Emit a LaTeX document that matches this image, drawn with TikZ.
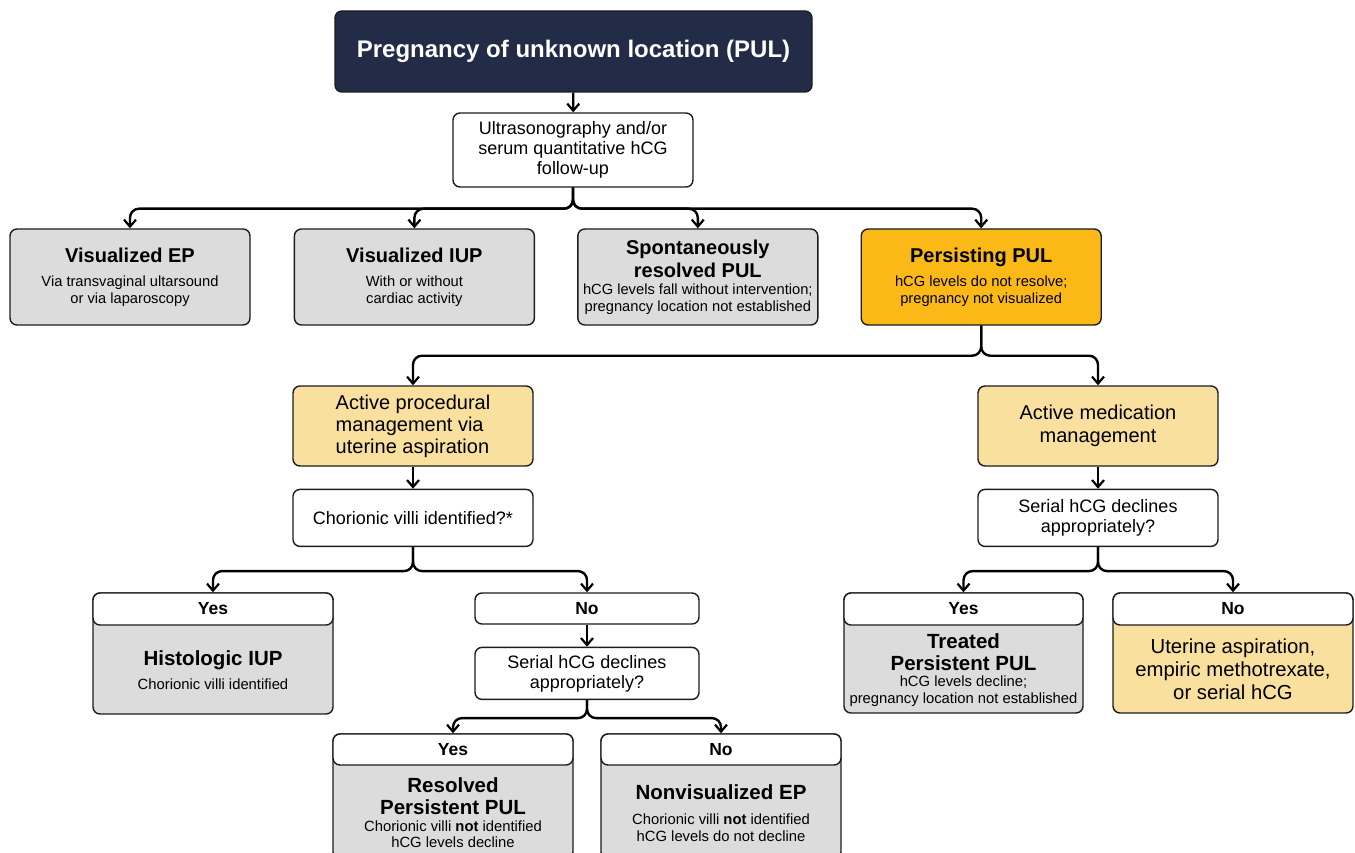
\documentclass[tikz,border=0pt]{standalone}
\usepackage{fontspec}
\setmainfont{Liberation Sans}
\usetikzlibrary{positioning}
\usetikzlibrary{calc}
\usetikzlibrary{arrows.meta}

\definecolor{navy}{HTML}{232C47}
\definecolor{boxgray}{HTML}{DCDCDC}
\definecolor{amber}{HTML}{FBB917}
\definecolor{paleamber}{HTML}{F9E09E}
\definecolor{edge}{HTML}{1C1C1C}

\newcommand{\fixspace}{\spaceskip=.278em\xspaceskip=.278em}
\newcommand{\rowtitle}{\fontsize{20}{23}\selectfont\bfseries\fixspace}
\newcommand{\rownote}{\fontsize{14.7}{17}\selectfont\fixspace}
\newcommand{\restitle}{\fontsize{20.5}{22}\selectfont\bfseries\fixspace}
\newcommand{\resnote}{\fontsize{14.8}{16.5}\selectfont\fixspace}
\newcommand{\yesno}{\fontsize{17.5}{20}\selectfont\bfseries}

\tikzset{
  box/.style={draw=edge, line width=1.4pt, rounded corners=7pt, minimum width=240, inner sep=2pt, align=center},
  plainbox/.style={box, fill=white},
  graybox/.style={box, fill=boxgray},
  ambbox/.style={box, fill=amber},
  palebox/.style={box, fill=paleamber},
  bodytext/.style={text width=236, align=center, inner sep=0pt},
  conn/.style={line width=2.4pt, rounded corners=9pt, -{Straight Barb[length=7pt,width=12pt,line width=2.2pt]}}
}

\begin{document}
\begin{tikzpicture}[x=1pt, y=-1pt]
  \useasboundingbox (0,0) rectangle (1355,853);
  \clip (0,0) rectangle (1355,853);

  % top of the chart
  \node[box, fill=navy, text=white, minimum width=477, minimum height=81, font=\fontsize{24}{28}\selectfont\bfseries] (pul) at (573.5,51.5) {Pregnancy of unknown location (PUL)};
  \node[plainbox, minimum height=74, font=\fontsize{18}{20}\selectfont] (ultra) at (573,150) {Ultrasonography and/or\\serum quantitative hCG\\follow-up};

  % first row
  \node[graybox, minimum height=96, text width=232] (vep) at (130,277) {{\rowtitle Visualized EP\par}\vskip7pt{\rownote Via transvaginal ultarsound\\or via laparoscopy\par}};
  \node[graybox, minimum height=96, text width=232, right=43pt of vep] (viup) {{\rowtitle Visualized IUP\par}\vskip7pt{\rownote With or without\\cardiac activity\par}};
  \node[graybox, minimum height=96, text width=232, right=42pt of viup] (spon) {{\rowtitle Spontaneously\\resolved PUL\par}{\rownote hCG levels fall without intervention;\\pregnancy location not established\par}};
  \node[ambbox, minimum height=96, text width=232, right=42pt of spon] (pers) {{\rowtitle Persisting PUL\par}\vskip7pt{\rownote hCG levels do not resolve;\\pregnancy not visualized\par}};

  % management
  \node[palebox, minimum height=80, align=left, font=\fontsize{20}{22}\selectfont] (proc) at (413,426) {Active procedural\\management via\\uterine aspiration};
  \node[plainbox, minimum height=57, font=\fontsize{18}{20}\selectfont, below=22pt of proc] (chor) {Chorionic villi identified?*};
  \node[palebox, minimum height=80, font=\fontsize{20}{23}\selectfont] (med) at (1098,426) {Active medication\\management};
  \node[plainbox, minimum height=57, font=\fontsize{18}{20}\selectfont, below=22pt of med] (serr) {Serial hCG declines\\appropriately?};

  % chorionic villi branch
  \node[graybox, minimum height=121] (hist) at (213,653.5) {};
  \node[plainbox, minimum height=32, anchor=north, font=\yesno] (histhd) at (hist.north) {Yes};
  \node[bodytext] (histtxt) at ($(histhd.south)!.5!(hist.south)$) {{\restitle Histologic IUP\par}\vskip7pt{\resnote Chorionic villi identified\par}};
  \node[plainbox, minimum width=224, minimum height=31, font=\yesno] (nohd) at (587,608.5) {No};
  \node[plainbox, minimum width=224, minimum height=52, font=\fontsize{18}{20}\selectfont, below=22pt of nohd] (serm) {Serial hCG declines\\appropriately?};

  % medication branch
  \node[graybox, minimum width=239, minimum height=120] (treat) at (963.5,653) {};
  \node[plainbox, minimum width=239, minimum height=32, anchor=north, font=\yesno] (treathd) at (treat.north) {Yes};
  \node[bodytext] (treattxt) at ($(treathd.south)!.5!(treat.south)$) {{\restitle Treated\\Persistent PUL\par}{\resnote hCG levels decline;\\pregnancy location not established\par}};
  \node[palebox, minimum height=120] (uter) at (1233,653) {};
  \node[plainbox, minimum height=32, anchor=north, font=\yesno] (uterhd) at (uter.north) {No};
  \node[bodytext] (utertxt) at ($(uterhd.south)!.5!(uter.south)$) {\fontsize{20.3}{23}\selectfont\fixspace Uterine aspiration,\\empiric methotrexate,\\or serial hCG\par};

  % last row
  \node[graybox, minimum height=125] (resl) at (453,796.5) {};
  \node[plainbox, minimum height=31, anchor=north, font=\yesno] (reslhd) at (resl.north) {Yes};
  \node[bodytext] (resltxt) at ($(reslhd.south)!.5!(resl.south)$) {{\restitle Resolved\\Persistent PUL\par}{\resnote Chorionic villi \textbf{not} identified\\hCG levels decline\par}};
  \node[graybox, minimum height=125] (nvep) at (721,796.5) {};
  \node[plainbox, minimum height=31, anchor=north, font=\yesno] (nvephd) at (nvep.north) {No};
  \node[bodytext] (nveptxt) at ($(nvephd.south)!.5!(nvep.south)$) {{\restitle Nonvisualized EP\par}\vskip9pt{\resnote Chorionic villi \textbf{not} identified\\hCG levels do not decline\par}};

  % connectors
  \draw[conn] (pul) -- (ultra);
  \foreach \c in {vep,viup,spon,pers}
    \draw[conn] (ultra.south) -- ++(0,21) -| (\c.north);
  \foreach \c in {proc,med}
    \draw[conn] (pers.south) -- ++(0,30) -| (\c.north);
  \draw[conn] (proc) -- (chor);
  \draw[conn] (med) -- (serr);
  \foreach \c in {histhd,nohd}
    \draw[conn] (chor.south) -- ++(0,24) -| (\c.north);
  \foreach \c in {treathd,uterhd}
    \draw[conn] (serr.south) -- ++(0,24) -| (\c.north);
  \draw[conn] (nohd) -- (serm);
  \foreach \c in {reslhd,nvephd}
    \draw[conn] (serm.south) -- ++(0,18) -| (\c.north);
\end{tikzpicture}
\end{document}
